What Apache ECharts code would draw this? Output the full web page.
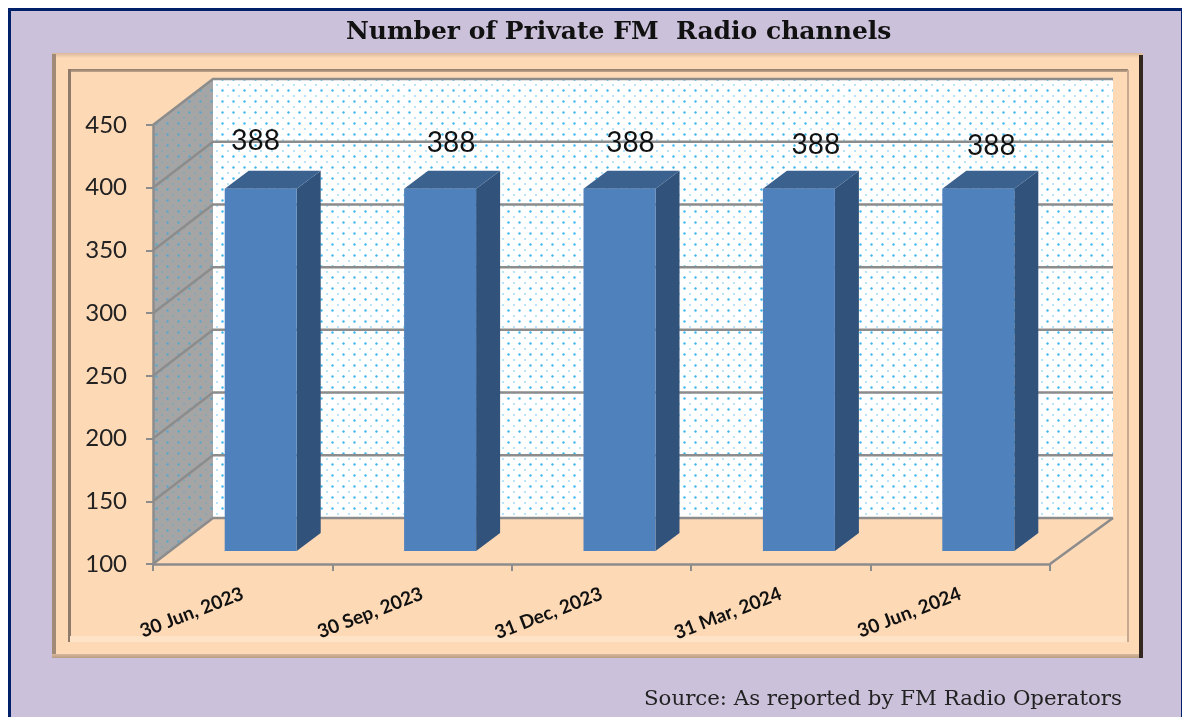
<!DOCTYPE html>
<html><head><meta charset="utf-8">
<style>html,body{margin:0;padding:0;background:#fff}#c{width:1182px;height:717px}</style>
<script src="https://cdn.jsdelivr.net/npm/echarts@6/dist/echarts.min.js"></script>
</head><body><div id="c"></div>
<script>
const categories = ['30 Jun, 2023','30 Sep, 2023','31 Dec, 2023','31 Mar, 2024','30 Jun, 2024'];
const channels = [388,388,388,388,388];
const yTicks = [100,150,200,250,300,350,400,450];
const labelNudgeX = [-17,-1,-1,5,1];
const labelNudgeY = [0,2,2,4,5];

const WALL = {dx:60, dxR:63, dy:-46};
const BAR = {floorDx:18, floorDy:-13, w:72, dx:24, dy:-18, topLift:-1};
const C = {lilac:'#CBC1DB', navy:'#00206A', peach:'#FDD9B6', line:'#8C8C8C', front:'#4F81BD', side:'#31527B', top:'#3B618F'};

function dots(a){
  const t=document.createElement('canvas'); t.width=11; t.height=11;
  const g=t.getContext('2d');
  g.fillStyle='rgba(30,170,235,'+a+')';
  g.beginPath(); g.arc(2.5,2.5,1.2,0,7); g.fill();
  g.fillStyle='rgba(30,170,235,'+(a*0.5)+')';
  g.beginPath(); g.arc(8,8,1,0,7); g.fill();
  return t;
}
const dotFill = {image:dots(0.85), repeat:'repeat'};
const dotSide = {image:dots(0.55), repeat:'repeat'};

function rect(x,y,w,h,fill,z){return {type:'rect',shape:{x,y,width:w,height:h},style:{fill},z:z,silent:true};}
const vg=(a,b)=>({type:'linear',x:0,y:0,x2:0,y2:1,colorStops:[{offset:0,color:a},{offset:1,color:b}]});

const chrome = [
  rect(0,0,1182,717,'#fff',-30),
  rect(8,8,1180,715,C.navy,-29),
  rect(11,11,1170,710,C.lilac,-28),
  rect(52,53,1091,605,C.peach,-27),
  rect(52,53,1091,5,vg('#D9B89C',C.peach),-26),
  rect(52,54,4,604,'#A18B77',-26),
  rect(52,654,1091,4,vg('#D8B89C','#B89C84'),-26),
  rect(1139,55,4,603,'#33281F',-25),
  rect(68,69,1060,3,vg('#8F7B6B','#C0A48C'),-26),
  rect(68,69,3,573,'#8F7B6B',-26),
  rect(1127,70,2,572,'#C4A88F',-26),
  rect(70,636,1057,6,'#FFE3C6',-26)
];

function renderWalls(params, api){
  const cs=params.coordSys, L=cs.x, R=cs.x+cs.width, B=cs.y+cs.height, T=cs.y;
  const d=WALL, kids=[], BR=R+d.dxR, BL=L+d.dx;
  kids.push({type:'rect',shape:{x:BL,y:T+d.dy,width:BR-BL,height:B-T},style:{fill:'#fff'}});
  kids.push({type:'rect',shape:{x:BL,y:T+d.dy,width:BR-BL,height:B-T},style:{fill:dotFill}});
  kids.push({type:'polygon',shape:{points:[[L,T],[BL,T+d.dy],[BL,B+d.dy],[L,B]]},style:{fill:'#A5A5A5'}});
  kids.push({type:'polygon',shape:{points:[[L,T],[BL,T+d.dy],[BL,B+d.dy],[L,B]]},style:{fill:dotSide}});
  kids.push({type:'polygon',shape:{points:[[L,B],[BL,B+d.dy],[BR,B+d.dy],[R,B]]},style:{fill:C.peach}});
  yTicks.forEach(v=>{
    const y=api.coord([0,v])[1];
    kids.push({type:'polyline',shape:{points:[[L,y],[BL,y+d.dy],[BR,y+d.dy]]},style:{fill:null,stroke:C.line,lineWidth:2.5}});
  });
  kids.push({type:'line',shape:{x1:R,y1:B,x2:BR,y2:B+d.dy},style:{stroke:C.line,lineWidth:2.5}});
  return {type:'group',children:kids};
}

function renderBar(params, api){
  const i=api.value(0), base=api.coord([i,100]), top=api.coord([i,api.value(1)]);
  const b=BAR, cx=base[0]+b.floorDx, l=cx-b.w/2, r=cx+b.w/2;
  const by=base[1]+b.floorDy, ty=top[1]+b.floorDy+b.topLift;
  return {type:'group',children:[
    {type:'polygon',shape:{points:[[r,ty],[r+b.dx,ty+b.dy],[r+b.dx,by+b.dy],[r,by]]},style:{fill:C.side}},
    {type:'polygon',shape:{points:[[l,ty],[l+b.dx,ty+b.dy],[r+b.dx,ty+b.dy],[r,ty]]},style:{fill:C.top}},
    {type:'rect',shape:{x:l,y:ty,width:b.w,height:by-ty},style:{fill:C.front}},
    {type:'text',style:{text:String(api.value(1)),x:cx+b.dx/2+labelNudgeX[i],y:ty-48+labelNudgeY[i],align:'center',verticalAlign:'middle',fill:'#111',font:'28px Lato'},z2:10}
  ]};
}

const chart=echarts.init(document.getElementById('c'),null,{renderer:'canvas'});
chart.setOption({
  animation:false,
  backgroundColor:'#fff',
  title:[
    {text:'Number of Private FM  Radio channels',left:341,top:15,textStyle:{fontFamily:'DejaVu Serif',fontWeight:'bold',fontSize:25,color:'#111'}},
    {text:'Source: As reported by FM Radio Operators',left:639,top:684,textStyle:{fontFamily:'DejaVu Serif',fontWeight:'normal',fontSize:21.3,color:'#222'}}
  ],
  graphic:{elements:chrome},
  grid:{left:153,right:132,top:125,bottom:153,containLabel:false},
  xAxis:{type:'category',data:categories,z:5,
    axisLine:{lineStyle:{color:C.line,width:2.5}},
    axisTick:{show:true,alignWithLabel:false,length:7,lineStyle:{color:C.line,width:2}},
    axisLabel:{rotate:21,margin:29,interval:0,fontFamily:'Lato',fontWeight:'bold',fontSize:19,color:'#111'},
    splitLine:{show:false}},
  yAxis:{type:'value',min:100,max:450,interval:50,z:5,
    axisLine:{show:true,lineStyle:{color:C.line,width:2.5}},
    axisTick:{show:true,length:7,lineStyle:{color:C.line,width:2}},
    axisLabel:{margin:26,fontFamily:'Lato',fontSize:24,color:'#222'},
    splitLine:{show:false}},
  series:[
    {type:'custom',name:'walls',z:1,silent:true,renderItem:renderWalls,data:[[0,100]],encode:{x:0,y:1},clip:false},
    {type:'custom',name:'Private FM Radio channels',z:6,renderItem:renderBar,data:channels.map((v,i)=>[i,v]),encode:{x:0,y:1},clip:false}
  ]
});
</script></body></html>
